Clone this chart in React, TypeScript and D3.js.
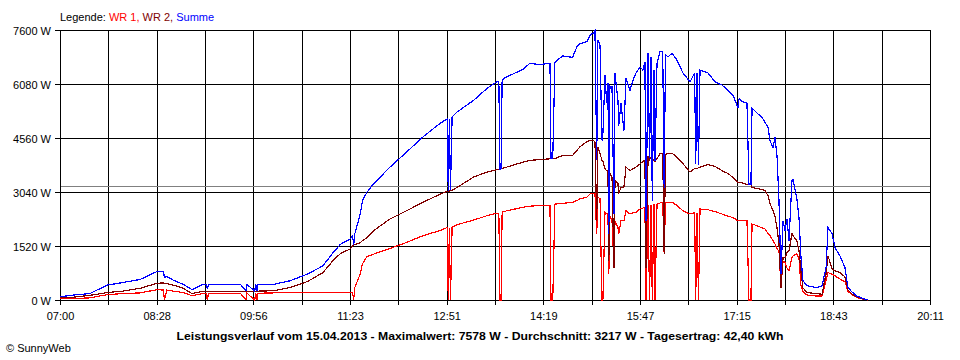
import React from 'react';
import * as d3 from 'd3';

// time of day in minutes since midnight
const times = [
  420, 432, 447, 463, 477, 493, 508, 514, 515, 517, 523, 532, 540, 550, 553, 554, 555, 561, 584, 589,
  590, 597, 598, 599, 600, 614, 629, 645, 659, 668, 675, 684, 686, 687, 688, 693, 695, 699, 705, 720,
  735, 750, 765, 772, 773, 774, 775, 776.5, 781, 796, 808, 817, 819, 820, 821, 822, 826, 841, 847, 856,
  865.5, 866.4, 868, 870, 877, 886, 890, 893, 899, 902, 905, 906.4, 908, 909, 911, 912.7, 913.6, 915.5, 917, 918.2,
  919, 920, 921.9, 923.7, 924.6, 927.3, 928, 930, 932.7, 934.6, 938.2, 941, 943.7, 947.3, 950, 951.8, 952.8, 954.7, 956, 957.4,
  958.5, 960, 961, 962.8, 965.5, 968, 969.3, 970.5, 972.9, 976.5, 981, 986.4, 992.8, 997, 998, 999.2, 1000.5, 1001.9, 1009.2, 1015.5,
  1021.9, 1027.3, 1031.9, 1036.4, 1037.5, 1040, 1044.6, 1046.4, 1048.2, 1049.2, 1053.7, 1058.3, 1061, 1063.7, 1065.5, 1068.3, 1070, 1071.9, 1073.7, 1075.5,
  1077.4, 1079.2, 1081, 1082.8, 1085.5, 1086.4, 1090, 1091.9, 1093.7, 1095.5, 1099.2, 1108.3, 1112.8, 1116.5, 1118.3, 1121.9, 1124.6, 1129.2, 1133.7, 1136.4,
  1140, 1144.6, 1150, 1154.6,
];

const summe = [
  90, 140, 180, 420, 490, 580, 800, 800, 630, 660, 560, 440, 290, 440, 440, 300, 440, 440, 440, 260,
  440, 250, 440, 250, 440, 440, 540, 730, 960, 1320, 1570, 1720, 1810, 1540, 1860, 2420, 2800, 3030, 3270, 3740,
  4160, 4590, 4960, 5100, 3080, 5100, 3090, 5150, 5290, 5620, 5950, 6140, 6150, 3680, 3690, 6200, 6280, 6490, 6660, 6630,
  6660, 3975, 3980, 6700, 6870, 6830, 7130, 7220, 7270, 7460, 7520, 7578, 3930, 7320, 7180, 4490, 4690, 6330, 5540, 6100,
  1870, 6020, 6000, 2430, 6380, 5620, 4900, 5540, 4770, 6240, 5900, 6190, 6390, 6560, 6470, 6700, 2230, 6940, 4000, 6850,
  2800, 6470, 3900, 6670, 6990, 6990, 3160, 6900, 6850, 6940, 6750, 6390, 6140, 6390, 3840, 6400, 3800, 6470, 6390, 6140,
  6050, 5900, 5760, 5420, 5680, 5590, 5540, 3250, 3250, 5400, 5260, 5140, 5000, 4860, 4490, 4290, 4580, 4070, 2800, 740,
  2230, 1950, 2290, 1670, 3360, 3390, 2850, 2320, 1210, 540, 400, 350, 400, 910, 2040, 1870, 1480, 1240, 910, 350,
  230, 110, 40, 0,
];

const wr2 = [
  60, 80, 130, 210, 250, 330, 470, 480, 470, 460, 420, 330, 180, 250, 250, 250, 250, 250, 250, 250,
  250, 250, 250, 250, 250, 260, 350, 520, 770, 1100, 1310, 1440, 1530, 1540, 1560, 1610, 1670, 1750, 1950, 2280,
  2510, 2750, 2970, 3060, 3070, 3070, 3080, 3090, 3170, 3460, 3600, 3670, 3680, 3680, 3690, 3700, 3740, 3880, 3930, 3950,
  3975, 3975, 3980, 3980, 4070, 4070, 4210, 4320, 4460, 4490, 4490, 4440, 2230, 4300, 4130, 3930, 3900, 3700, 3640, 3640,
  1100, 3560, 3460, 900, 3360, 3280, 2990, 3170, 3170, 3740, 3640, 3700, 3740, 3830, 3900, 3930, 900, 4040, 3950, 4020,
  3980, 3930, 3900, 3980, 4120, 4130, 1300, 4100, 4130, 4130, 4020, 3840, 3600, 3700, 3700, 3700, 3720, 3740, 3810, 3760,
  3640, 3560, 3450, 3310, 3310, 3300, 3250, 3250, 3250, 3170, 3140, 3110, 3080, 2940, 2710, 2510, 2370, 2030, 1580, 340,
  1190, 1190, 1330, 1380, 1870, 1810, 1670, 1380, 800, 340, 210, 180, 160, 740, 1240, 880, 820, 770, 650, 280,
  170, 85, 30, 0,
];

const wr1 = [
  40, 40, 60, 150, 180, 200, 290, 280, 0, 280, 250, 210, 120, 180, 180, 0, 190, 190, 190, 0,
  190, 0, 190, 0, 190, 200, 220, 220, 220, 210, 210, 210, 200, 0, 350, 730, 1020, 1220, 1290, 1450,
  1620, 1810, 1950, 2040, 0, 2040, 0, 2050, 2120, 2250, 2370, 2440, 2440, 0, 0, 2470, 2510, 2610, 2640, 2660,
  2660, 0, 0, 2700, 2720, 2750, 2800, 2850, 2890, 2990, 2990, 2990, 1870, 2890, 2850, 0, 0, 2470, 2430, 2420,
  740, 2350, 2230, 930, 2230, 2040, 1860, 2230, 2230, 2510, 2420, 2460, 2470, 2560, 2590, 2610, 0, 2660, 0, 2680,
  0, 2700, 0, 2700, 2730, 2750, 1300, 2730, 2750, 2750, 2660, 2510, 2420, 2460, 0, 2450, 0, 2560, 2540, 2490,
  2420, 2360, 2320, 2230, 2230, 2230, 2230, 0, 0, 2140, 2090, 2030, 2000, 1870, 1810, 1670, 1580, 1440, 1380, 400,
  1100, 1050, 900, 820, 1200, 1240, 1300, 1160, 400, 230, 140, 110, 110, 540, 770, 730, 680, 590, 510, 250,
  140, 70, 20, 0,
];

const yTicks = [0, 1520, 3040, 4560, 6080, 7600];
const xTickLabels = ['07:00', '08:28', '09:56', '11:23', '12:51', '14:19', '15:47', '17:15', '18:43', '20:11'];
const startMinute = 420;
const endMinute = 1211;
const average = 3217;
const title = 'Leistungsverlauf vom 15.04.2013 - Maximalwert: 7578 W - Durchschnitt: 3217 W - Tagesertrag: 42,40 kWh';

const font = '"Liberation Sans", Arial, sans-serif';

export default function App() {
  const W = 960, H = 360;
  const left = 60, right = 930, top = 30, bottom = 300;
  const x = d3.scaleLinear().domain([startMinute, endMinute]).range([left, right]);
  const y = d3.scaleLinear().domain([0, 7600]).range([bottom, top]);
  const nGrid = 18;
  const gridTimes = d3.range(nGrid + 1).map(i => startMinute + (i * (endMinute - startMinute)) / nGrid);
  const px = (v: number) => Math.round(v) + 0.5;

  const line = d3.line<number>()
    .x((_, i) => x(times[i]))
    .y(d => y(d));

  const series = [
    { name: 'WR 1', values: wr1, color: '#ff0000' },
    { name: 'WR 2', values: wr2, color: '#800000' },
    { name: 'Summe', values: summe, color: '#0000ff' },
  ];

  return (
    <svg width={W} height={H} style={{ position: 'absolute', left: 0, top: 0, background: '#fff' }}
      fontFamily={font}>
      <rect x={0} y={0} width={W} height={H} fill="#fff" />
      {/* vertical grid */}
      {gridTimes.map((t, i) => (
        <line key={'v' + i} x1={px(x(t))} x2={px(x(t))} y1={top} y2={bottom + 5}
          stroke="#000" strokeWidth={1} shapeRendering="crispEdges" />
      ))}
      {/* horizontal grid */}
      {yTicks.map(v => (
        <line key={'h' + v} x1={left - 5} x2={right + 1} y1={px(y(v))} y2={px(y(v))}
          stroke="#000" strokeWidth={1} shapeRendering="crispEdges" />
      ))}
      {/* average line */}
      <line x1={left + 1} x2={right} y1={px(y(average))} y2={px(y(average))}
        stroke="#808080" strokeWidth={1} shapeRendering="crispEdges" />
      {/* y labels */}
      {yTicks.map(v => (
        <text key={'yl' + v} x={51} y={y(v) + 4.5} textAnchor="end" fontSize={11} fill="#000">{`${v} W`}</text>
      ))}
      {/* x labels */}
      {xTickLabels.map((lab, i) => (
        <text key={'xl' + i} x={x(gridTimes[i * 2]) + 0.5} y={320} textAnchor="middle" fontSize={11} fill="#000">{lab}</text>
      ))}
      {/* series */}
      {series.map(s => (
        <path key={s.name} d={line(s.values) || ''} fill="none" stroke={s.color} strokeWidth={1.2}
          strokeLinejoin="miter" shapeRendering="crispEdges" />
      ))}
      {/* legend */}
      <text x={60} y={21} fontSize={11}>
        <tspan fill="#000">Legende: </tspan>
        <tspan fill="#ff0000">WR 1, </tspan>
        <tspan fill="#800000">WR 2, </tspan>
        <tspan fill="#0000ff">Summe</tspan>
      </text>
      {/* title */}
      <text x={480} y={340} textAnchor="middle" fontSize={11} fontWeight="bold" fill="#000"
        textLength={607} lengthAdjust="spacingAndGlyphs">{title}</text>
      <text x={6} y={352} fontSize={11} fill="#000">© SunnyWeb</text>
    </svg>
  );
}
